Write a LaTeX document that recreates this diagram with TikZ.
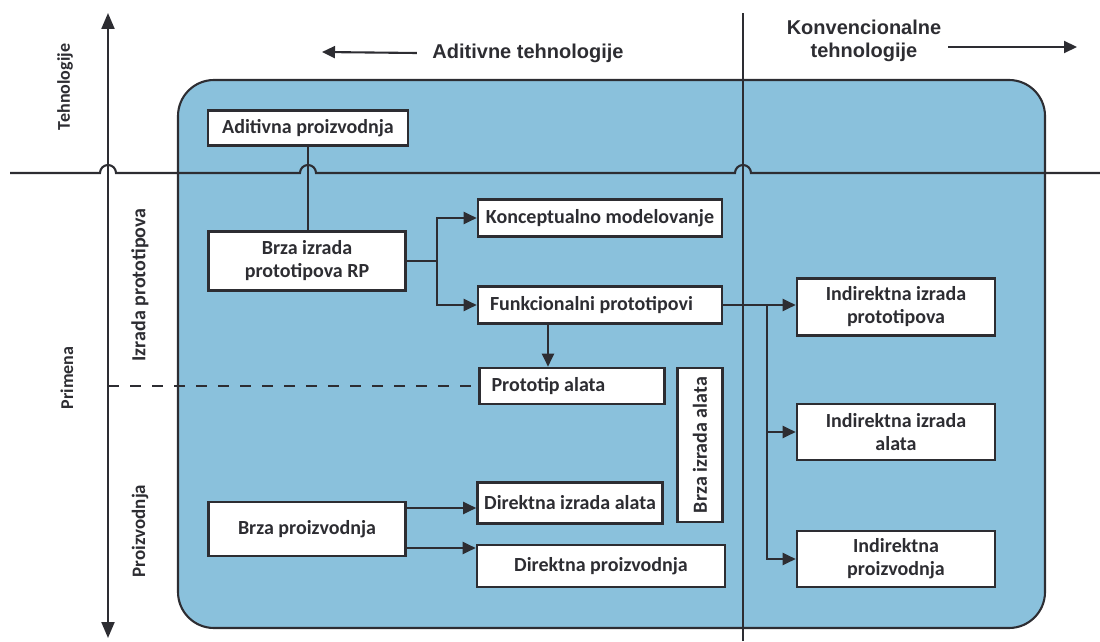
\documentclass[tikz,border=0pt]{standalone}
\usepackage{fontspec}
\setmainfont{Carlito}
\newfontfamily\headfont{Liberation Sans}
\usepackage{tikz}
\usetikzlibrary{arrows.meta, positioning, calc}
\definecolor{mydark}{RGB}{45,45,50}
\definecolor{myblue}{RGB}{138,193,220}
\tikzset{
  block/.style={rectangle, draw=mydark, fill=white, line width=2.6pt,
    align=center, font=\bfseries\fontsize{20}{23}\selectfont, text=mydark, inner sep=2pt},
  leftblock/.style={block, align=flush left, inner xsep=12pt},
  arrow/.style={-{Triangle[length=13pt,width=12pt]}, line width=2.1pt, color=mydark},
  line/.style={line width=2.1pt, color=mydark},
  axislabel/.style={rotate=90, font=\bfseries\fontsize{18}{20}\selectfont, text=mydark},
  headlabel/.style={font=\headfont\bfseries\fontsize{20}{23}\selectfont, text=mydark, align=center}
}

\begin{document}
\begin{tikzpicture}[x=1pt, y=1pt]
  \useasboundingbox (0,0) rectangle (1100,641);

  % Background area
  \draw[line, fill=myblue, rounded corners=36pt] (178,13) rectangle (1045,561);

  % Axes
  \draw[line, {Triangle[length=16pt,width=13pt]}-{Triangle[length=16pt,width=13pt]}] (108,3) -- (108,628);
  \draw[line] (743,0) -- (743,628);

  % Headers
  \node[headlabel] (addhead) at (528,588) {Aditivne tehnologije};
  \draw[arrow] ([xshift=-12pt]addhead.west) -- (322,589);
  \node[headlabel] (convhead) at (864,600) {Konvencionalne\\tehnologije};
  \draw[arrow] (948,594) -- (1077,594);

  % Axis labels
  \node[axislabel] (tech) at (65,554) {Tehnologije};
  \node[axislabel] (prim) at (67,263) {Primena};
  \node[axislabel, font=\bfseries\fontsize{20}{22}\selectfont] (izr) at (140,356) {Izrada prototipova};
  \node[axislabel, font=\bfseries\fontsize{19}{21}\selectfont] (proiz) at (140,110) {Proizvodnja};

  % Additive boxes
  \node[block, minimum width=200, minimum height=35] (adit) at (308,513) {Aditivna proizvodnja};
  \node[block, minimum width=197, minimum height=59] (rp) at (307,380) {Brza izrada\\prototipova RP};
  \node[block, minimum width=244, minimum height=37] (konc) at (600,423) {Konceptualno modelovanje};
  \node[leftblock, text width=220, minimum height=37] (funk) at (600,336) {Funkcionalni prototipovi};
  \node[leftblock, text width=161, minimum height=36] (protalat) at (572,255) {Prototip alata};
  \node[block, rotate=90, minimum width=154, minimum height=45] (brzaalat) at (700,196) {Brza izrada alata};
  \node[block, minimum width=185, minimum height=41] (diralat) at (570,138) {Direktna izrada alata};
  \node[block, minimum width=248, minimum height=42] (dirproiz) at (601,75) {Direktna proizvodnja};
  \node[block, minimum width=197, minimum height=54] (brzaproiz) at (307,112) {Brza proizvodnja};

  % Conventional boxes
  \node[block, minimum width=198, minimum height=57] (indproto) at (896,334) {Indirektna izrada\\prototipova};
  \node[block, minimum width=198, minimum height=56] (indalat) at (896,209) {Indirektna izrada\\alata};
  \node[block, minimum width=198, minimum height=56] (indproiz) at (896,82) {Indirektna\\proizvodnja};

  % Link through the border line
  \draw[line] (adit.south) -- (adit.south |- rp.north);

  % Border line with jumps
  \draw[line] (10,468) -- (100,468) arc[start angle=180, end angle=0, radius=8]
    -- (300,468) arc[start angle=180, end angle=0, radius=8]
    -- (735,468) arc[start angle=180, end angle=0, radius=8] -- (1100,468);

  % Dashed divider
  \coordinate (axdash) at (108,255);
  \draw[line, dash pattern=on 11pt off 11pt] (axdash) -- (protalat.west);

  % Rapid prototyping branches
  \coordinate (rpfork) at (437,380);
  \draw[line] (rp.east) -- (rpfork);
  \draw[arrow] (rpfork) |- (konc.west);
  \draw[arrow] (rpfork) |- (funk.west);
  \draw[arrow] ([xshift=-52pt]funk.south) -- ([xshift=-24pt]protalat.north);

  % Rapid production branches
  \coordinate (bp1) at ([yshift=21pt]brzaproiz.east);
  \coordinate (bp2) at ([yshift=-19pt]brzaproiz.east);
  \draw[arrow] (bp1) -- (bp1 -| diralat.west);
  \draw[arrow] (bp2) -- (bp2 -| dirproiz.west);

  % Indirect branches
  \coordinate (indfork) at (767,336);
  \draw[arrow] (funk.east) -- (funk.east -| indproto.west);
  \draw[arrow] (indfork) |- (indalat.west);
  \draw[arrow] (indfork) |- (indproiz.west);
\end{tikzpicture}
\end{document}
